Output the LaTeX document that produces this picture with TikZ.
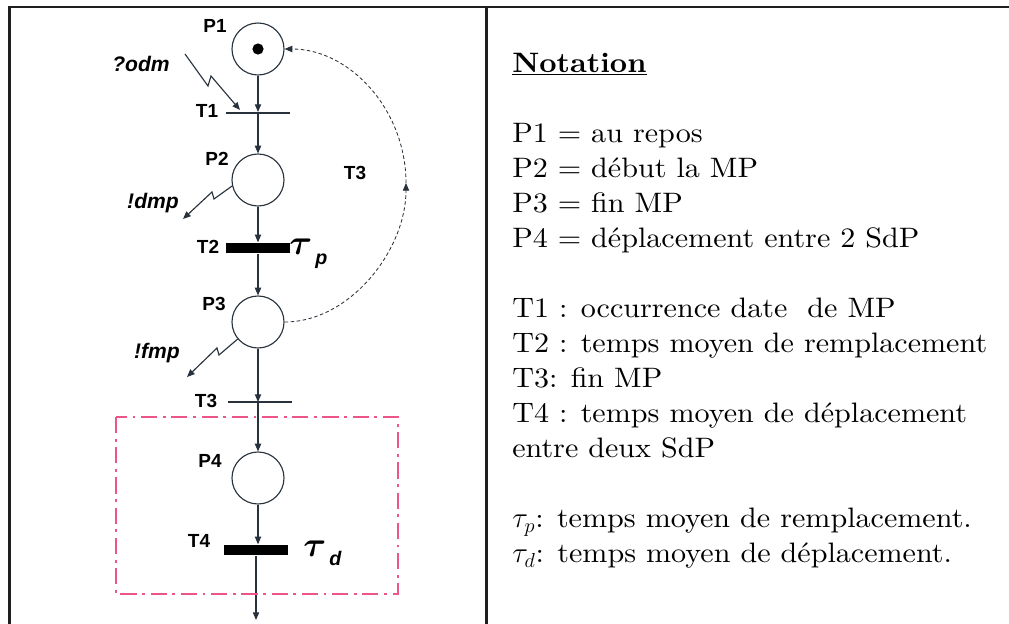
\documentclass[tikz,border=0pt]{standalone}
\usepackage{fontspec}
\usepackage{bm}
\setsansfont{Liberation Sans}
\newfontfamily\notefont{lmroman10}[Extension=.otf, UprightFont=*-regular, BoldFont=*-bold, ItalicFont=*-italic, FakeStretch=1.07]
\usetikzlibrary{arrows.meta}

\definecolor{netline}{RGB}{40,50,60}
\definecolor{zonepink}{RGB}{238,85,135}

\tikzset{
  frame/.style={line width=2.1pt, draw=black!88, line join=miter},
  place/.style={circle, draw=netline, line width=0.8pt, minimum size=1.3cm, inner sep=0pt},
  token/.style={circle, fill=black, minimum size=0.28cm, inner sep=0pt},
  thinbar/.style={rectangle, fill=netline, minimum width=1.58cm, minimum height=1pt, inner sep=0pt},
  thickbar/.style={rectangle, fill=black, minimum width=1.58cm, minimum height=0.27cm, inner sep=0pt},
  arc/.style={->, draw=netline, line width=0.8pt},
  signal/.style={->, draw=netline, line width=0.8pt},
  loopback/.style={->, draw=netline, line width=0.6pt, dash pattern=on 2.5pt off 1.8pt},
  zone/.style={draw=zonepink, line width=2.1pt, dash pattern=on 11.5pt off 4pt on 2pt off 4pt},
  lbl/.style={font=\sffamily\bfseries\fontsize{13.5}{13.5}\selectfont, inner sep=0pt, anchor=base},
  msg/.style={font=\sffamily\bfseries\itshape\fontsize{15}{15}\selectfont, inner sep=0pt, anchor=base},
  delay/.style={inner sep=0pt, anchor=base west},
  legend/.style={font=\notefont\fontsize{20}{24.9}\selectfont, align=left, inner sep=0pt, anchor=north west}
}

\begin{document}
\begin{tikzpicture}[x=0.025cm, y=-0.025cm, >={Triangle[length=5.5pt,width=4.5pt]}]
  \useasboundingbox (0,0) rectangle (1009,624);

  % Table frame
  \draw[frame] (9.5,624) -- (9.5,7) -- (1009,7);
  \draw[frame] (486.5,7) -- (486.5,624);

  % Places
  \node[place] (P1) at (258,49) {};
  \node[token] (tok) at (P1) {};
  \node[place] (P2) at (258,180) {};
  \node[place] (P3) at (258,322) {};
  \node[place] (P4) at (258,478) {};

  % Transitions
  \node[thinbar] (T1) at (258,113) {};
  \node[thickbar] (T2) at (258,248) {};
  \node[thinbar] (T3) at (260,402) {};
  \node[thickbar] (T4) at (256,550) {};
  \coordinate (exit) at (256,620);

  % Arcs
  \draw[arc] (P1) -- (T1);
  \draw[arc] (T1) -- (P2);
  \draw[arc] (P2) -- (T2);
  \draw[arc] (T2) -- (P3);
  \draw[arc] (P3) -- (P3 |- T3);
  \draw[arc] (P3 |- T3) -- (P4);
  \draw[arc] (P4) -- (P4 |- T4.north);
  \draw[arc] (T4) -- (exit);

  % Return loop through T3
  \coordinate (loopmid) at (406,183);
  \draw[loopback] (P3.east) .. controls (350,322) and (406,250) .. (loopmid);
  \draw[loopback] (loopmid) .. controls (406,110) and (350,49) .. (P1.east);

  % Messages
  \coordinate (odmsrc) at (185,54);
  \coordinate (odmtip) at (240,110);
  \coordinate (dmptip) at (183,219);
  \coordinate (fmptip) at (187,377);
  \draw[signal] (odmsrc) -- (208,86) -- (211,76) -- (odmtip);
  \draw[signal] (P2.193) -- (214,199) -- (212,192) -- (dmptip);
  \draw[signal] (P3.220) -- (219,355) -- (217,348) -- (fmptip);

  % Zone of the displacement
  \draw[zone] (116,417) rectangle (398,594);

  % Labels
  \node[lbl] (P1lbl) at (215,33) {P1};
  \node[lbl] (T1lbl) at (207,118) {T1};
  \node[lbl] (P2lbl) at (217,165) {P2};
  \node[lbl] (T2lbl) at (208,253) {T2};
  \node[lbl] (P3lbl) at (214,310) {P3};
  \node[lbl] (T3lbl) at (206,407) {T3};
  \node[lbl] (P4lbl) at (210,467) {P4};
  \node[lbl] (T4lbl) at (199,547) {T4};
  \node[lbl] (looplbl) at (355,180) {T3};
  \node[msg] (odm) at (141,72) {?odm};
  \node[msg] (dmp) at (153,209) {!dmp};
  \node[msg] (fmp) at (157,358) {!fmp};
  \node[delay] (taup) at (289,255) {{\fontsize{26}{26}\selectfont$\bm{\tau}$}\raisebox{-7pt}{\sffamily\bfseries\itshape\fontsize{14}{14}\selectfont\,p}};
  \node[delay] (taud) at (303,556) {{\fontsize{26}{26}\selectfont$\bm{\tau}$}\raisebox{-7pt}{\sffamily\bfseries\itshape\fontsize{14}{14}\selectfont\,d}};

  % Notation
  \node[legend] (notes) at (512,53) {%
    \underline{\textbf{Notation}}\\[24.9pt]
    P1 = au repos\\
    P2 = début la MP\\
    P3 = fin MP\\
    P4 = déplacement entre 2 SdP\\[24.9pt]
    T1 : occurrence date\ \ de MP\\
    T2 : temps moyen de remplacement\\
    T3: fin MP\\
    T4 : temps moyen de déplacement\\
    entre deux SdP\\[24.9pt]
    $\tau_p$: temps moyen de remplacement.\\
    $\tau_d$: temps moyen de déplacement.};
\end{tikzpicture}
\end{document}
